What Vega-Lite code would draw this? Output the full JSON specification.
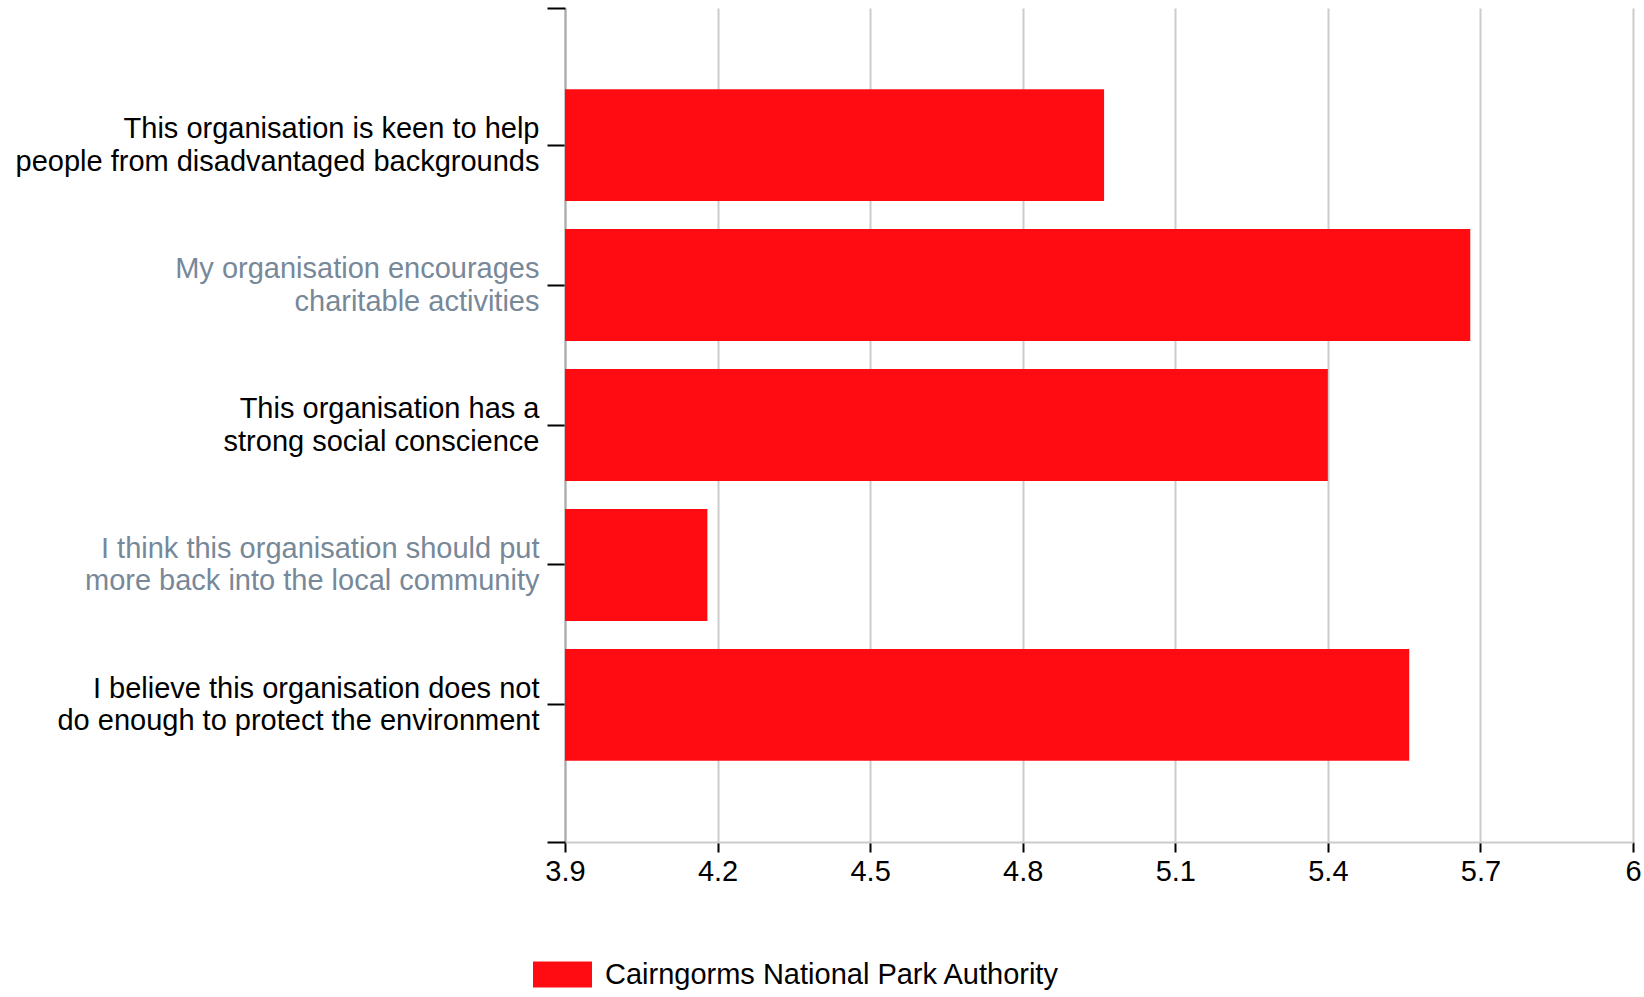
{
  "$schema": "https://vega.github.io/schema/vega-lite/v6.json",
  "autosize": {"type": "none"},
  "width": 1068,
  "height": 834,
  "padding": {"left": 565, "top": 8, "right": 11, "bottom": 155},
  "background": "white",
  "config": {
    "font": "Liberation Sans",
    "view": {"stroke": null}
  },
  "layer": [
    {
      "data": {
        "values": [
          {"statement": "This organisation is keen to help|people from disadvantaged backgrounds", "score": 4.96, "series": "Cairngorms National Park Authority"},
          {"statement": "My organisation encourages|charitable activities", "score": 5.68, "series": "Cairngorms National Park Authority"},
          {"statement": "This organisation has a|strong social conscience", "score": 5.40, "series": "Cairngorms National Park Authority"},
          {"statement": "I think this organisation should put|more back into the local community", "score": 4.18, "series": "Cairngorms National Park Authority"},
          {"statement": "I believe this organisation does not|do enough to protect the environment", "score": 5.56, "series": "Cairngorms National Park Authority"}
        ]
      },
      "mark": {"type": "bar", "clip": true},
      "encoding": {
        "y": {
          "field": "statement",
          "type": "nominal",
          "sort": null,
          "scale": {"paddingInner": 0.2, "paddingOuter": 0.58},
          "axis": {
            "title": null,
            "labelExpr": "split(datum.value, '|')",
            "labelFontSize": 29,
            "labelLineHeight": 32.5,
            "labelOffset": -16,
            "labelLimit": 700,
            "labelPadding": 8,
            "labelColor": {
              "condition": {"test": "indexof(datum.value, 'My organisation') == 0 || indexof(datum.value, 'I think') == 0", "value": "#778899"},
              "value": "#000000"
            },
            "tickSize": 18,
            "tickColor": "#000000",
            "tickWidth": 2,
            "domainColor": "#aaaaaa",
            "domainWidth": 2,
            "grid": false
          }
        },
        "x": {
          "field": "score",
          "type": "quantitative",
          "scale": {"domain": [3.9, 6], "zero": false, "nice": false},
          "axis": {
            "title": null,
            "values": [3.9, 4.2, 4.5, 4.8, 5.1, 5.4, 5.7, 6],
            "format": "~g",
            "labelFontSize": 29,
            "labelColor": "#000000",
            "labelPadding": 5,
            "labelFlush": false,
            "tickSize": 10,
            "tickColor": "#000000",
            "tickWidth": 2,
            "domainColor": "#cccccc",
            "domainWidth": 2,
            "grid": true,
            "gridColor": "#cccccc",
            "gridWidth": 2
          }
        },
        "color": {
          "field": "series",
          "type": "nominal",
          "scale": {"range": ["#ff0c12"]},
          "legend": {
            "title": null,
            "orient": "none",
            "legendX": -32,
            "legendY": 937,
            "symbolType": "M-1,-0.44H1V0.44H-1Z",
            "symbolSize": 3481,
            "symbolStrokeWidth": 0,
            "symbolOpacity": 1,
            "labelFontSize": 29,
            "labelColor": "#000000",
            "labelOffset": 13,
            "labelLimit": 800
          }
        }
      }
    },
    {
      "data": {"values": [{"edge": 0, "score": 3.9}, {"edge": 1, "score": 3.9}]},
      "mark": {"type": "point", "opacity": 0},
      "encoding": {
        "x": {"field": "score", "type": "quantitative"},
        "y": {
          "field": "edge",
          "type": "quantitative",
          "scale": {"domain": [0, 1], "nice": false, "zero": false},
          "axis": {
            "orient": "left",
            "title": null,
            "values": [0, 1],
            "labels": false,
            "domain": false,
            "grid": false,
            "tickSize": 18,
            "tickColor": "#000000",
            "tickWidth": 2
          }
        }
      }
    }
  ],
  "resolve": {"scale": {"y": "independent"}, "axis": {"y": "independent"}}
}
